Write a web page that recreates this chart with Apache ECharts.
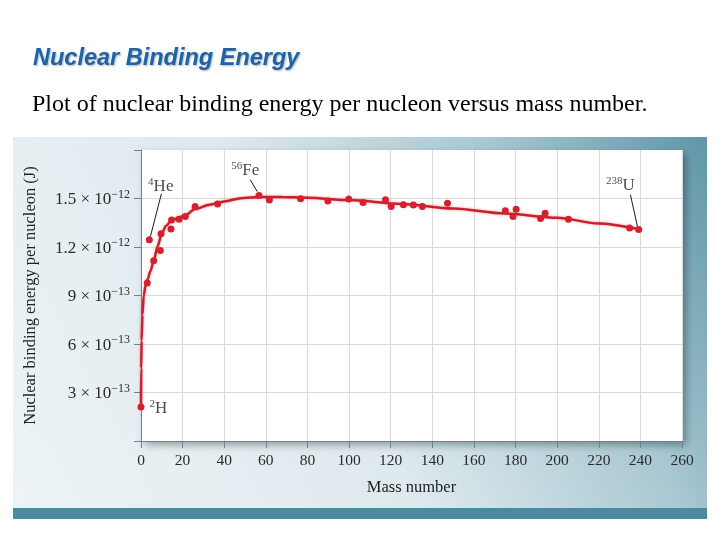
<!DOCTYPE html>
<html><head><meta charset="utf-8">
<script src="https://cdn.jsdelivr.net/npm/echarts@6/dist/echarts.min.js"></script>
<style>html,body{margin:0;padding:0;background:#fff}#c{width:720px;height:540px}</style>
</head><body><div id="c"></div>
<script>
// Measured points: mass number and binding energy per nucleon (J)
const massNumbers = [0, 3.0, 4.0, 6.1, 9.3, 9.6, 14.4, 14.7, 18.3, 21.3, 26.0, 36.8, 56.7, 61.7, 76.7, 89.8, 99.8, 106.7, 117.5, 120.2, 126.1, 130.9, 135.2, 147.3, 175.1, 178.8, 180.3, 192.0, 194.2, 205.4, 234.8, 239.2];
const bindingEnergy = [0.21e-12, 0.977e-12, 1.245e-12, 1.115e-12, 1.179e-12, 1.282e-12, 1.311e-12, 1.367e-12, 1.371e-12, 1.389e-12, 1.451e-12, 1.466e-12, 1.519e-12, 1.491e-12, 1.499e-12, 1.485e-12, 1.497e-12, 1.476e-12, 1.493e-12, 1.451e-12, 1.462e-12, 1.460e-12, 1.451e-12, 1.470e-12, 1.425e-12, 1.389e-12, 1.433e-12, 1.377e-12, 1.408e-12, 1.371e-12, 1.318e-12, 1.309e-12];
// Fitted curve
const curveMass = [0, 0.1, 0.3, 0.7, 1.3, 2.2, 3.2, 4.5, 6, 8, 10, 12, 14.5, 18, 21.3, 26, 33, 40, 48, 57, 68, 80, 100, 125, 150, 175, 200, 220, 239];
const curveEnergy = [0.21e-12, 0.45e-12, 0.62e-12, 0.78e-12, 0.90e-12, 0.96e-12, 1.00e-12, 1.05e-12, 1.11e-12, 1.205e-12, 1.285e-12, 1.33e-12, 1.362e-12, 1.382e-12, 1.396e-12, 1.435e-12, 1.462e-12, 1.482e-12, 1.502e-12, 1.51e-12, 1.509e-12, 1.505e-12, 1.49e-12, 1.466e-12, 1.438e-12, 1.407e-12, 1.381e-12, 1.345e-12, 1.31e-12];
// Isotope annotations
const annotSup = ['4', '56', '238', '2'];
const annotSym = ['He', 'Fe', 'U', 'H'];
const annotMass = [9.5, 50.1, 230.4, 8.3];
const annotEnergy = [1.578e-12, 1.678e-12, 1.585e-12, 0.206e-12];
const leaderFrom = [[9.8, 1.529e-12], [52.5, 1.616e-12], [235.2, 1.524e-12]];
const leaderTo = [[4.5, 1.264e-12], [55.9, 1.542e-12], [238.6, 1.326e-12]];
// Axis ticks
const xTicks = [0, 20, 40, 60, 80, 100, 120, 140, 160, 180, 200, 220, 240, 260];
const yInterval = 3e-13, yMax = 1.8e-12;

const SERIF = '"Liberation Serif","DejaVu Serif",serif';
const chart = echarts.init(document.getElementById('c'), null, {renderer: 'canvas'});

const points = massNumbers.map((a, i) => [a, bindingEnergy[i]]);
const curve = curveMass.map((a, i) => [a, curveEnergy[i]]);
const annots = annotMass.map((a, i) => ({
  value: [a, annotEnergy[i]],
  label: {formatter: '{s|' + annotSup[i] + '}{b|' + annotSym[i] + '}'}
}));
const leaders = leaderFrom.map((f, i) => [{coord: f}, {coord: leaderTo[i]}]);

chart.setOption({
  animation: false,
  backgroundColor: '#ffffff',
  title: [
    {text: 'Nuclear Binding Energy', left: 33, top: 47, padding: 0,
     textStyle: {fontFamily: '"Liberation Sans",Arial,sans-serif', fontSize: 23.5, fontWeight: 'bold', fontStyle: 'italic', color: '#1d63a8',
       textShadowColor: 'rgba(0,0,0,0.3)', textShadowBlur: 2, textShadowOffsetX: 1, textShadowOffsetY: 1}},
    {text: 'Plot of nuclear binding energy per nucleon versus mass number.', left: 32, top: 93, padding: 0,
     textStyle: {fontFamily: SERIF, fontSize: 24, fontWeight: 'normal', color: '#000'}}
  ],
  graphic: [
    {type: 'rect', z: -10, shape: {x: 13, y: 137, width: 694, height: 371},
     style: {fill: {type: 'linear', x: 0, y: 1, x2: 1, y2: 0, colorStops: [
       {offset: 0, color: '#edf3f6'}, {offset: 0.45, color: '#dfeaee'}, {offset: 0.75, color: '#a9c8d2'}, {offset: 1, color: '#5f96a8'}]}}},
    {type: 'rect', z: -9, shape: {x: 13, y: 508, width: 694, height: 11}, style: {fill: '#4c8b9f'}}
  ],
  grid: {left: 141, right: 38, top: 150, bottom: 99, show: true, backgroundColor: '#ffffff', borderWidth: 0,
    shadowColor: 'rgba(0,0,0,0.35)', shadowBlur: 8, shadowOffsetX: 4, shadowOffsetY: 4},
  xAxis: {
    type: 'value', min: xTicks[0], max: xTicks[xTicks.length - 1], interval: 20,
    name: 'Mass number', nameLocation: 'middle', nameGap: 38,
    nameTextStyle: {fontFamily: SERIF, fontSize: 16.5, color: '#222'},
    axisLine: {show: true, lineStyle: {color: '#5f8795', width: 1}},
    axisTick: {show: true, length: 7, lineStyle: {color: '#5f8795'}},
    axisLabel: {margin: 12, fontFamily: SERIF, fontSize: 15.5, color: '#2a2a2a'},
    splitLine: {show: true, lineStyle: {color: '#dadada', width: 1}}
  },
  yAxis: {
    type: 'value', min: 0, max: yMax, interval: yInterval,
    name: 'Nuclear binding energy per nucleon (J)', nameLocation: 'middle', nameGap: 102,
    nameTextStyle: {fontFamily: SERIF, fontSize: 16.5, color: '#222'},
    axisLine: {show: true, lineStyle: {color: '#5f8795', width: 1}},
    axisTick: {show: true, length: 7, lineStyle: {color: '#5f8795'}},
    axisLabel: {
      margin: 11,
      formatter: function (v) {
        if (v <= 0 || v > 1.65e-12) return '';
        const e = Math.floor(Math.log10(v) + 1e-9);
        const m = Math.round(v / Math.pow(10, e) * 10) / 10;
        return '{m|' + m + ' × 10}{s|−' + (-e) + '}';
      },
      rich: {
        m: {fontFamily: SERIF, fontSize: 17, color: '#2a2a2a', verticalAlign: 'bottom', lineHeight: 20},
        s: {fontFamily: SERIF, fontSize: 12, color: '#2a2a2a', verticalAlign: 'top', lineHeight: 20}
      }
    },
    splitLine: {show: true, showMaxLine: false, lineStyle: {color: '#dadada', width: 1}}
  },
  series: [
    {type: 'line', data: curve, showSymbol: false, smooth: 0.3, smoothMonotone: 'x', z: 3,
     lineStyle: {color: '#c9202d', width: 2.5, shadowColor: 'rgba(220,40,50,0.45)', shadowBlur: 3}},
    {type: 'scatter', data: points, symbolSize: 7, z: 4, itemStyle: {color: '#d7202e', opacity: 1}},
    {type: 'scatter', data: annots, symbolSize: 0, z: 5, silent: true,
     label: {show: true, position: 'inside',
       rich: {
         s: {fontFamily: SERIF, fontSize: 11, color: '#1a1a1a', verticalAlign: 'top', lineHeight: 18},
         b: {fontFamily: SERIF, fontSize: 17, color: '#1a1a1a', verticalAlign: 'bottom', lineHeight: 18}
       }},
     markLine: {silent: true, symbol: ['none', 'none'], label: {show: false},
       lineStyle: {color: '#1a1a1a', width: 1, type: 'solid'}, data: leaders}}
  ]
});
</script></body></html>
